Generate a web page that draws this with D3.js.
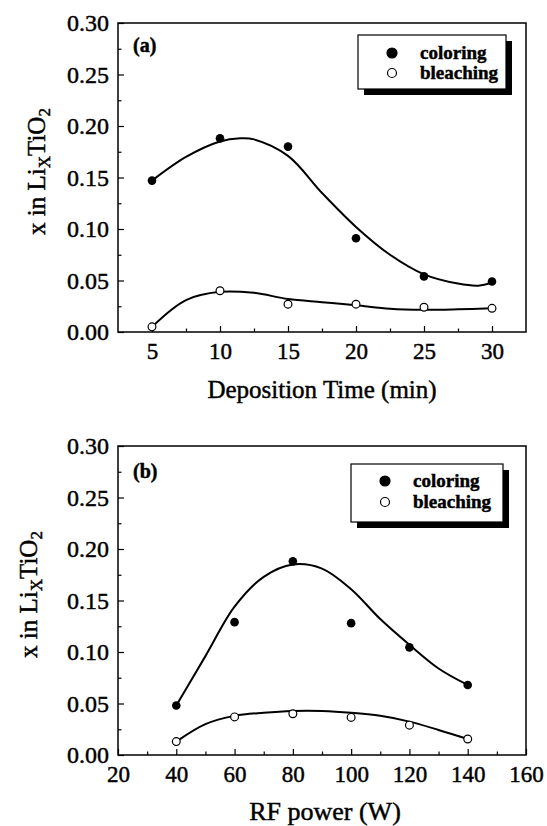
<!DOCTYPE html>
<html>
<head>
<meta charset="utf-8">
<script src="https://cdn.jsdelivr.net/npm/d3@7"></script>
<style>
  body { margin: 0; background: #fff; }
  svg text { font-family: "Liberation Serif", "Times New Roman", serif; fill: #000; stroke: #000; stroke-width: 0.45; }
</style>
</head>
<body>
<svg id="chart" width="547" height="826"></svg>
<script>
// panel (a): deposition time
const timeMin = [5, 10, 15, 20, 25, 30]
const coloringA = [0.147, 0.188, 0.180, 0.091, 0.054, 0.049]
const bleachingA = [0.005, 0.040, 0.027, 0.027, 0.024, 0.023]
// fitted curves
const fitColorTimeA = [5, 7.5, 10, 11.5, 12.5, 15, 17.5, 20, 22.5, 25, 27.5, 29, 30]
const fitColoringA = [0.147, 0.170, 0.185, 0.188, 0.187, 0.171, 0.135, 0.102, 0.075, 0.056, 0.047, 0.045, 0.048]
const fitBleachTimeA = [5, 7.5, 10, 12.5, 15, 17.5, 20, 22.5, 25, 27.5, 30]
const fitBleachingA = [0.005, 0.031, 0.039, 0.038, 0.032, 0.029, 0.026, 0.0225, 0.0215, 0.022, 0.023]

// panel (b): RF power
const powerW = [40, 60, 80, 100, 120, 140]
const coloringB = [0.048, 0.129, 0.188, 0.128, 0.1045, 0.068]
const bleachingB = [0.013, 0.037, 0.040, 0.0365, 0.029, 0.0155]
const fitColorPowerB = [40, 50, 60, 70, 80, 90, 100, 110, 120, 130, 140]
const fitColoringB = [0.048, 0.096, 0.144, 0.173, 0.185, 0.181, 0.161, 0.132, 0.107, 0.084, 0.068]
const fitBleachPowerB = [40, 50, 60, 70, 80, 90, 100, 110, 120, 130, 140]
const fitBleachingB = [0.013, 0.030, 0.038, 0.041, 0.0427, 0.0427, 0.041, 0.038, 0.0324, 0.0243, 0.0155]

const yTicks = [0, 0.05, 0.10, 0.15, 0.20, 0.25, 0.30]
const yMinor = [0.025, 0.075, 0.125, 0.175, 0.225, 0.275]
const xTicksA = [5, 10, 15, 20, 25, 30]
const xMinorA = [7.5, 12.5, 17.5, 22.5, 27.5]
const xTicksB = [20, 40, 60, 80, 100, 120, 140, 160]
const xMinorB = [30, 50, 70, 90, 110, 130, 150]
const legendLabels = ["coloring", "bleaching"]

const svg = d3.select('#chart')

function drawPanel(p) {
  const g = svg.append("g")

  const x = d3.scaleLinear().domain(p.xDomain).range([p.left, p.right])
  const y = d3.scaleLinear().domain([0, 0.30]).range([p.bottom, p.top])

  // bottom axis, inward ticks
  const xa = g.append("g")
    .attr("transform", "translate(0," + p.bottom + ")")
    .call(d3.axisBottom(x).tickValues(p.xTicks).tickSize(-6).tickPadding(10.5)
      .tickFormat(d3.format("d")))
  xa.selectAll("text").attr("font-size", 23)
  g.append("g")
    .attr("transform", "translate(0," + p.bottom + ")")
    .call(d3.axisBottom(x).tickValues(p.xMinor).tickSize(-3.5).tickFormat(""))

  const ya = g.append("g")
    .attr("transform", "translate(" + p.left + ",0)")
    .call(d3.axisLeft(y).tickValues(yTicks).tickSize(-6).tickPadding(9)
      .tickFormat(d3.format(".2f")))
  ya.selectAll("text").attr("font-size", 24)
  g.append("g")
    .attr("transform", "translate(" + p.left + ",0)")
    .call(d3.axisLeft(y).tickValues(yMinor).tickSize(-3.5).tickFormat(""))

  g.selectAll(".domain").remove()
  g.selectAll(".tick line").attr("stroke", "#000").attr("stroke-width", 1.2)
  g.selectAll(".tick text").attr("fill", "#000")

  // frame
  g.append("rect")
    .attr("x", p.left).attr("y", p.top)
    .attr("width", p.right - p.left).attr("height", p.bottom - p.top)
    .attr("fill", "none").attr("stroke", "#000").attr("stroke-width", 1.5)

  const line = d3.line()
    .x(d => x(d[0]))
    .y(d => y(d[1]))
    .curve(d3.curveCatmullRom.alpha(0.5))

  g.append("path")
    .datum(d3.zip(p.fitColorX, p.fitColor))
    .attr("fill", "none").attr("stroke", "#000").attr("stroke-width", 2)
    .attr("d", line)
  g.append("path")
    .datum(d3.zip(p.fitBleachX, p.fitBleach))
    .attr("fill", "none").attr("stroke", "#000").attr("stroke-width", 2)
    .attr("d", line)

  g.selectAll(".dotColor")
    .data(d3.zip(p.xs, p.coloring))
    .join("circle")
      .attr("r", 4.3)
      .attr("cx", d => x(d[0]))
      .attr("cy", d => y(d[1]))
      .attr("fill", "#000")

  g.selectAll(".dotBleach")
    .data(d3.zip(p.xs, p.bleaching))
    .join("circle")
      .attr("r", 3.9)
      .attr("cx", d => x(d[0]))
      .attr("cy", d => y(d[1]))
      .attr("fill", "#fff").attr("stroke", "#000").attr("stroke-width", 1.2)

  // panel letter
  g.append("text")
    .attr("x", p.left + 15).attr("y", p.top + p.letterDy)
    .attr("font-size", 20).attr("font-weight", "bold")
    .text(p.letter)

  // legend with drop shadow
  const lg = p.legend
  g.append("rect")
    .attr("x", lg.x + 6).attr("y", lg.y + 6).attr("width", lg.w).attr("height", lg.h)
    .attr("fill", "#000")
  g.append("rect")
    .attr("x", lg.x).attr("y", lg.y).attr("width", lg.w).attr("height", lg.h)
    .attr("fill", "#fff").attr("stroke", "#000").attr("stroke-width", 1.2)
  legendLabels.forEach((lab, i) => {
    g.append("circle")
      .attr("cx", lg.x + 34).attr("cy", lg.y + lg.rows[i])
      .attr("r", i === 0 ? 5 : 4.5)
      .attr("fill", i === 0 ? "#000" : "#fff")
      .attr("stroke", "#000").attr("stroke-width", 1.2)
    g.append("text")
      .attr("x", lg.x + 62).attr("y", lg.y + lg.rows[i] + 6)
      .attr("font-size", 19).attr("font-weight", "bold")
      .text(lab)
  })

  // axis titles
  g.append("text")
    .attr("x", (p.left + p.right) / 2 + p.xTitleDx).attr("y", p.bottom + p.xTitleDy)
    .attr("text-anchor", "middle").attr("font-size", p.xTitleSize)
    .text(p.xTitle)

  const yt = g.append("text")
    .attr("transform", "translate(" + p.yTitleX + "," + ((p.top + p.bottom) / 2 - 6) + ") rotate(-90)")
    .attr("text-anchor", "middle").attr("font-size", 25)
  yt.append("tspan").text("x in Li")
  yt.append("tspan").attr("font-size", 17).attr("dy", 5).text("X")
  yt.append("tspan").attr("dy", -5).text("TiO")
  yt.append("tspan").attr("font-size", 17).attr("dy", 5).text("2")
}

drawPanel({
  top: 23, bottom: 332, left: 118, right: 526,
  xDomain: [2.5, 32.5], xTicks: xTicksA, xMinor: xMinorA,
  xs: timeMin, coloring: coloringA, bleaching: bleachingA,
  fitColorX: fitColorTimeA, fitColor: fitColoringA,
  fitBleachX: fitBleachTimeA, fitBleach: fitBleachingA,
  letter: "(a)", letterDy: 29,
  legend: { x: 358, y: 35, w: 148, h: 54, rows: [18, 38] },
  xTitle: "Deposition Time (min)", xTitleDy: 66, xTitleDx: 0, xTitleSize: 25, yTitleX: 45
})

drawPanel({
  top: 446, bottom: 755, left: 118, right: 526,
  xDomain: [20, 160], xTicks: xTicksB, xMinor: xMinorB,
  xs: powerW, coloring: coloringB, bleaching: bleachingB,
  fitColorX: fitColorPowerB, fitColor: fitColoringB,
  fitBleachX: fitBleachPowerB, fitBleach: fitBleachingB,
  letter: "(b)", letterDy: 32,
  legend: { x: 351, y: 464, w: 152, h: 58, rows: [17, 38] },
  xTitle: "RF power (W)", xTitleDy: 65, xTitleDx: 3, xTitleSize: 26, yTitleX: 37
})
</script>
</body>
</html>
